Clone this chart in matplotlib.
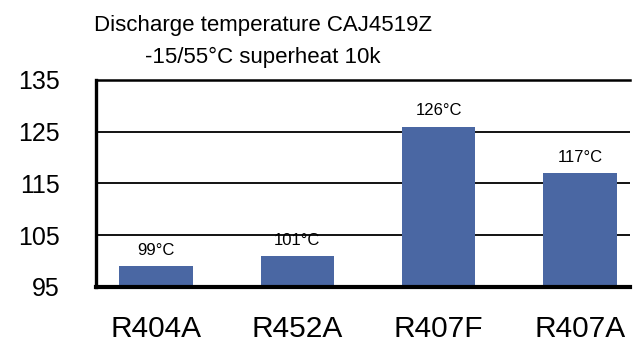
import matplotlib
matplotlib.use("Agg")
import matplotlib.pyplot as plt

categories = ["R404A", "R452A", "R407F", "R407A"]
values = [99, 101, 126, 117]
value_labels = ["99°C", "101°C", "126°C", "117°C"]
yticks = [95, 105, 115, 125, 135]
title_lines = ["Discharge temperature CAJ4519Z", "-15/55°C superheat 10k"]

plt.rcParams['font.family'] = ['Liberation Sans', 'DejaVu Sans']

fig = plt.figure(figsize=(6.36, 3.46), dpi=100)
ax = fig.add_axes([96/636, 1-287/346, (630-96)/636, (287-80)/346])

x = list(range(len(categories)))
bars = ax.bar(x, values, width=0.52, color="#4A67A3", bottom=0, zorder=3)
ax.set_ylim(95, 135)
ax.set_xlim(-0.425, 3.355)

for yv in yticks[1:-1]:
    ax.axhline(yv, color="black", lw=1.3, zorder=2)
ax.axhline(135, color="black", lw=1.8, zorder=2, clip_on=False)

for s in ["top", "right"]:
    ax.spines[s].set_visible(False)
ax.spines["left"].set_linewidth(2.4)
ax.spines["bottom"].set_linewidth(3.0)
ax.spines["bottom"].set_zorder(4)

ax.set_yticks(yticks)
ax.set_yticklabels([str(t) for t in yticks], fontsize=18)
ax.set_xticks(x)
ax.set_xticklabels(categories, fontsize=21.5)
ax.tick_params(axis="y", length=0, pad=26)
ax.tick_params(axis="x", length=0, pad=20)

for xi, v, lab in zip(x, values, value_labels):
    ax.annotate(lab, (xi, v), xytext=(0, 6), textcoords="offset points",
                ha="center", va="bottom", fontsize=12, zorder=5)

fig.text(263/636, 1-25/346, title_lines[0], ha="center", va="center", fontsize=16)
fig.text(263/636, 1-57/346, title_lines[1], ha="center", va="center", fontsize=16)

fig.savefig("out.png", dpi=100)
